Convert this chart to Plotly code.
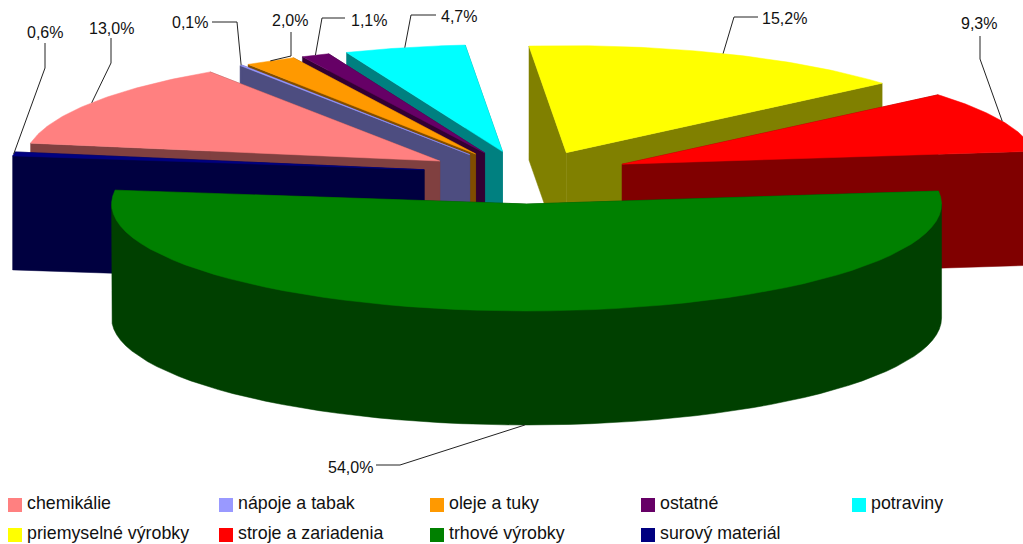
import math
import plotly.graph_objects as go

categories = ["chemikálie", "nápoje a tabak", "oleje a tuky", "ostatné", "potraviny",
              "priemyselné výrobky", "stroje a zariadenia", "trhové výrobky", "surový materiál"]
values = [13.0, 0.1, 2.0, 1.1, 4.7, 15.2, 9.3, 54.0, 0.6]
top_colors = ["#ff8080", "#9999ff", "#ff9900", "#660066", "#00ffff",
              "#ffff00", "#ff0000", "#008000", "#000080"]
wall_colors = ["#804040", "#4d4d80", "#804d00", "#330033", "#008080",
               "#808000", "#800000", "#004000", "#000040"]
value_labels = ["13,0%", "0,1%", "2,0%", "1,1%", "4,7%", "15,2%", "9,3%", "54,0%", "0,6%"]

# projection of the pie onto the page
CX, CY = 527, 173
RX, RY = 415, 107
DEPTH = 114
EXPLODE_X, EXPLODE_Y = 104, 22
GREEN_EXPLODE_Y = 31
START = 279.6
W, H = 1023, 544

total = sum(values)
angles = [START]
for v in values:
    angles.append(angles[-1] + v / total * 360)

def apex(i):
    mid = math.radians((angles[i] + angles[i + 1]) / 2)
    ey = GREEN_EXPLODE_Y if values[i] == max(values) else EXPLODE_Y
    return CX + EXPLODE_X * math.sin(mid), CY - ey * math.cos(mid)

def arc(a0, a1, ax, ay, n=60):
    pts = []
    for k in range(n + 1):
        t = math.radians(a0 + (a1 - a0) * k / n)
        pts.append((ax + RX * math.sin(t), ay - RY * math.cos(t)))
    return pts

fig = go.Figure()

def poly(pts, color):
    xs = [p[0] for p in pts] + [pts[0][0]]
    ys = [p[1] for p in pts] + [pts[0][1]]
    fig.add_trace(go.Scatter(x=xs, y=ys, mode="lines", fill="toself", fillcolor=color,
                             line=dict(color=color, width=0.5), hoverinfo="skip", showlegend=False))

def depth_mean(i):
    return math.cos(math.radians((angles[i] + angles[i + 1]) / 2))

def down(p):
    return (p[0], p[1] + DEPTH)

order = sorted(range(len(values)), key=lambda i: -depth_mean(i))
anchors = {}
for i in order:
    ax, ay = apex(i)
    rim = arc(angles[i], angles[i + 1], ax, ay)
    for e in (rim[0], rim[-1]):
        poly([(ax, ay), e, down(e), (ax, ay + DEPTH)], wall_colors[i])
    # outer wall: only the front-facing part of the rim
    a_start = angles[i] % 360
    a_end = a_start + (angles[i + 1] - angles[i])
    a0, a1 = max(a_start, 90), min(a_end, 270)
    if a1 > a0:
        front = arc(a0, a1, ax, ay)
        poly(front + [down(p) for p in reversed(front)], wall_colors[i])
    poly([(ax, ay)] + rim, top_colors[i])
    anchors[i] = rim

# leader lines start at the middle of each slice's rim; these are their bends
leader_bends = {
    8: [(45, 68), (45, 43)],
    0: [(111, 63), (111, 38)],
    1: [(237, 22), (212, 22)],
    2: [(291, 56), (291, 32)],
    3: [(322, 18), (345, 18)],
    4: [(411, 15), (436, 15)],
    5: [(734, 17), (758, 17)],
    6: [(980, 59), (980, 36)],
    7: [(400, 465), (376, 465)],
}
label_anchor = {
    8: (45, 32, "center"), 0: (111, 28, "center"), 1: (210, 22, "right"),
    2: (290, 20, "center"), 3: (349, 20, "left"), 4: (439, 16, "left"),
    5: (760, 18, "left"), 6: (979, 23, "center"), 7: (375, 467, "right"),
}
for i, bends in leader_bends.items():
    rim = anchors[i]
    p = rim[(len(rim) - 1) // 2]
    if i == 7:
        p = down(p)
    pts = [p] + bends
    fig.add_trace(go.Scatter(x=[q[0] for q in pts], y=[q[1] for q in pts], mode="lines",
                             line=dict(color="#222222", width=1), hoverinfo="skip", showlegend=False))
    lx, ly, al = label_anchor[i]
    fig.add_annotation(x=lx, y=ly, text=value_labels[i], showarrow=False, xanchor=al, yanchor="middle",
                       font=dict(family="Liberation Sans", size=16, color="#111111"))

# key: five columns, filled row by row
KEY_X0, KEY_DX, KEY_Y0, KEY_DY, KEY_TEXT_GAP = 15, 211, 505, 30, 12
for i, c in enumerate(categories):
    x = KEY_X0 + KEY_DX * (i % 5)
    y = KEY_Y0 + KEY_DY * (i // 5)
    fig.add_trace(go.Scatter(
        x=[x], y=[y], mode="markers", name=c,
        marker=dict(symbol="square", size=14, color=top_colors[i]),
        hoverinfo="name", showlegend=False, cliponaxis=False))
    fig.add_trace(go.Scatter(
        x=[x + KEY_TEXT_GAP], y=[y], mode="text", text=[c], textposition="middle right",
        textfont=dict(family="Liberation Sans", size=17.8, color="#111111"),
        hoverinfo="skip", showlegend=False, cliponaxis=False))

fig.update_layout(
    width=W, height=H, margin=dict(l=0, r=0, t=0, b=0),
    paper_bgcolor="white", plot_bgcolor="white",
    xaxis=dict(range=[0, W], visible=False, fixedrange=True),
    yaxis=dict(range=[H, 0], visible=False, fixedrange=True),
    showlegend=False,
)
fig.write_html("out.html", post_script="document.body.style.margin='0';",
               config=dict(displayModeBar=False))
